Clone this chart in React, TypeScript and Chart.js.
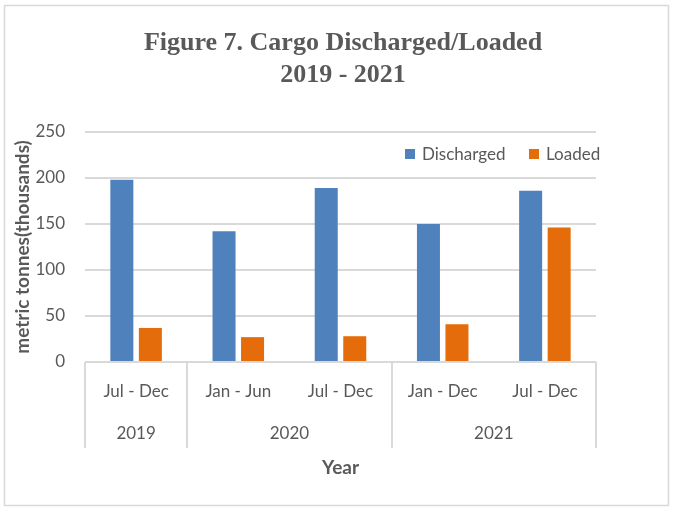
import React, { useEffect, useRef } from "react";
import { Chart, registerables } from "chart.js";

Chart.register(...registerables);

const periods = ["Jul - Dec", "Jan - Jun", "Jul - Dec", "Jan - Dec", "Jul - Dec"];
const periodYears = ["2019", "2020", "2020", "2021", "2021"];
const discharged = [198, 142, 189, 150, 186];
const loaded = [37, 27, 28, 41, 146];
const yTicks = [0, 50, 100, 150, 200, 250];

const TEXT = "#595959";
const GRID = "#d9d9d9";
const SANS = "Lato, 'Liberation Sans', sans-serif";
const FS = 17;

const decorPlugin = {
  id: "decor",
  beforeDraw(chart: any) {
    const ctx = chart.ctx;
    ctx.save();
    ctx.strokeStyle = GRID;
    ctx.lineWidth = 1.5;
    ctx.strokeRect(4.5, 5.5, 664, 500);
    ctx.restore();
  },
  afterDraw(chart: any) {
    const ctx = chart.ctx;
    const x = chart.scales.x;
    const area = chart.chartArea;
    const n = periods.length;
    const bound = (i: number) => {
      if (i <= 0) return area.left;
      if (i >= n) return area.right;
      return (x.getPixelForValue(i - 1) + x.getPixelForValue(i)) / 2;
    };
    const groups: { label: string; start: number; end: number }[] = [];
    periodYears.forEach((y, i) => {
      const g = groups[groups.length - 1];
      if (g && g.label === y) g.end = i;
      else groups.push({ label: y, start: i, end: i });
    });
    ctx.save();
    ctx.strokeStyle = GRID;
    ctx.lineWidth = 2;
    const lines = [0, ...groups.map((g) => g.end + 1)];
    lines.forEach((i) => {
      const px = Math.round(bound(i));
      ctx.beginPath();
      ctx.moveTo(px, area.bottom);
      ctx.lineTo(px, 448);
      ctx.stroke();
    });
    ctx.fillStyle = TEXT;
    ctx.font = `${FS}px ${SANS}`;
    ctx.textAlign = "center";
    ctx.textBaseline = "middle";
    groups.forEach((g) => {
      const cx = (bound(g.start) + bound(g.end + 1)) / 2;
      ctx.fillText(g.label, cx, 434);
    });
    const items = [
      { label: "Discharged", color: "#4f81bd", x: 405 },
      { label: "Loaded", color: "#e46c0a", x: 529 },
    ];
    ctx.textAlign = "left";
    items.forEach((it) => {
      ctx.fillStyle = it.color;
      ctx.fillRect(it.x, 149, 10, 10);
      ctx.fillStyle = TEXT;
      ctx.fillText(it.label, it.x + 17, 154.5);
    });
    ctx.restore();
  },
};

export default function App() {
  const ref = useRef<HTMLCanvasElement>(null);
  useEffect(() => {
    document.body.style.margin = "0";
    const chart = new Chart(ref.current!, {
      type: "bar",
      data: {
        labels: periods,
        datasets: [
          {
            label: "Discharged",
            data: discharged,
            backgroundColor: "#4f81bd",
            categoryPercentage: 0.558,
            barPercentage: 0.807,
          },
          {
            label: "Loaded",
            data: loaded,
            backgroundColor: "#e46c0a",
            categoryPercentage: 0.558,
            barPercentage: 0.807,
          },
        ],
      },
      options: {
        responsive: false,
        animation: false,
        devicePixelRatio: 1,
        layout: { padding: { left: 11, right: 0, top: 0, bottom: 0 } },
        plugins: {
          legend: { display: false },
          tooltip: { enabled: false },
          title: {
            display: true,
            text: ["Figure 7. Cargo Discharged/Loaded", "2019 - 2021"],
            color: TEXT,
            font: { family: "'Liberation Serif', serif", size: 26, weight: "bold", lineHeight: 1.2 },
            padding: { top: 28, bottom: 41.5 },
          },
        },
        scales: {
          x: {
            grid: { display: false },
            border: { display: false },
            ticks: {
              color: TEXT,
              font: { family: SANS, size: FS },
              padding: 11,
              maxRotation: 0,
              autoSkip: false,
            },
            title: {
              display: true,
              text: "Year",
              color: TEXT,
              font: { family: SANS, size: 19, weight: "bold" },
              padding: { top: 0, bottom: 29 },
            },
            afterFit(scale: any) {
              scale.height = 146;
            },
          },
          y: {
            min: 0,
            max: 250,
            afterBuildTicks(scale: any) {
              scale.ticks = yTicks.map((v) => ({ value: v }));
            },
            grid: { color: GRID, lineWidth: 2, drawTicks: false },
            border: { display: false },
            ticks: {
              color: TEXT,
              font: { family: SANS, size: FS },
              padding: 20,
            },
            title: {
              display: true,
              text: "metric tonnes(thousands)",
              color: TEXT,
              font: { family: SANS, size: 19, weight: "bold" },
              padding: { top: 0, bottom: 0 },
            },
            afterFit(scale: any) {
              scale.width = 74;
            },
          },
          yRight: {
            position: "right",
            display: true,
            grid: { display: false },
            border: { display: false },
            ticks: { display: false },
            afterFit(scale: any) {
              scale.width = 79;
            },
          },
        },
      },
      plugins: [decorPlugin],
    } as any);
    return () => chart.destroy();
  }, []);
  return <canvas ref={ref} width={675} height={508} style={{ display: "block", width: 675, height: 508 }} />;
}
